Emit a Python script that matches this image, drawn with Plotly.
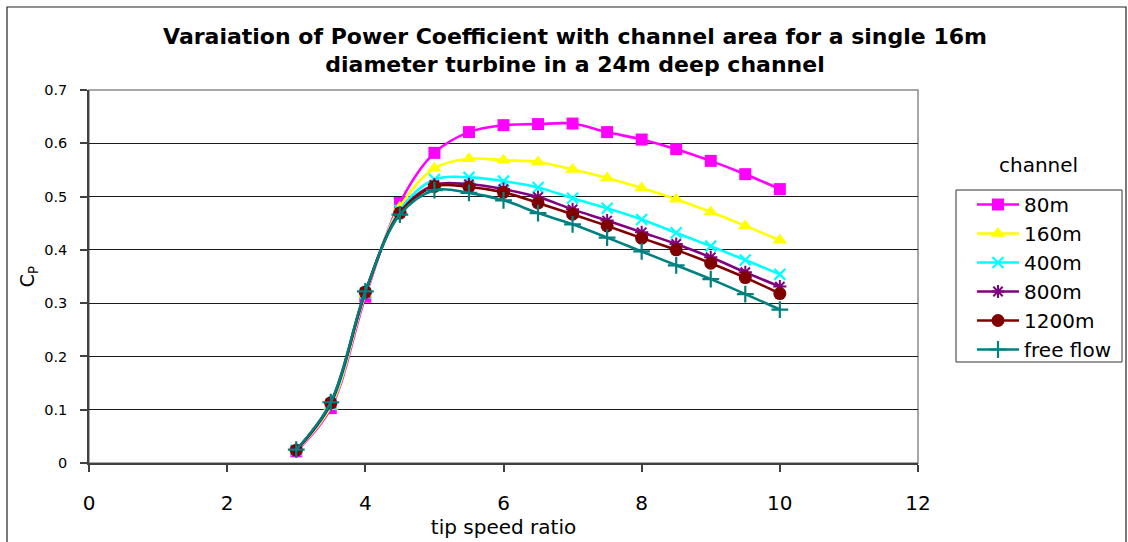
import plotly.graph_objects as go

# Tip speed ratio sample points
tsr = [3, 3.5, 4, 4.5, 5, 5.5, 6, 6.5, 7, 7.5, 8, 8.5, 9, 9.5, 10]

# Power coefficient per channel width
cp_80m = [0.022, 0.103, 0.312, 0.488, 0.582, 0.621, 0.634, 0.636, 0.637, 0.621, 0.607, 0.589, 0.567, 0.542, 0.514]
cp_160m = [0.023, 0.106, 0.316, 0.480, 0.553, 0.571, 0.568, 0.565, 0.551, 0.535, 0.516, 0.495, 0.471, 0.445, 0.418]
cp_400m = [0.024, 0.110, 0.319, 0.474, 0.532, 0.536, 0.529, 0.517, 0.497, 0.478, 0.457, 0.432, 0.407, 0.381, 0.354]
cp_800m = [0.024, 0.112, 0.320, 0.470, 0.522, 0.523, 0.514, 0.499, 0.476, 0.455, 0.433, 0.411, 0.386, 0.358, 0.331]
cp_1200m = [0.024, 0.113, 0.321, 0.469, 0.519, 0.518, 0.508, 0.488, 0.467, 0.445, 0.422, 0.400, 0.375, 0.348, 0.318]
cp_free = [0.025, 0.114, 0.322, 0.466, 0.512, 0.507, 0.493, 0.469, 0.448, 0.423, 0.397, 0.371, 0.345, 0.317, 0.288]

series_names = ["80m", "160m", "400m", "800m", "1200m", "free flow"]
series_values = [cp_80m, cp_160m, cp_400m, cp_800m, cp_1200m, cp_free]

x_ticks = [0, 2, 4, 6, 8, 10, 12]
y_ticks = [0, 0.1, 0.2, 0.3, 0.4, 0.5, 0.6, 0.7]

styles = [
    dict(color="#FF00FF", symbol="square", size=12, lw=0),
    dict(color="#FFFF00", symbol="triangle-up", size=13, lw=0),
    dict(color="#00FFFF", symbol="x-thin-open", size=11, lw=2.2),
    dict(color="#800080", symbol="asterisk-open", size=11, lw=2),
    dict(color="#800000", symbol="circle", size=13, lw=0),
    dict(color="#008080", symbol="cross-thin-open", size=12, lw=2.2),
]

FONT = "DejaVu Sans"

fig = go.Figure()
for name, vals, st in zip(series_names, series_values, styles):
    fig.add_trace(go.Scatter(
        x=tsr, y=vals, name=name, mode="lines+markers",
        line=dict(color=st["color"], width=2.6, shape="spline", smoothing=1.0),
        marker=dict(symbol=st["symbol"], size=st["size"], color=st["color"],
                    line=dict(width=st["lw"], color=st["color"])),
    ))

# Plot area in pixels
L, R, T, B = 89, 918, 90, 463
W, H = 1128, 542
PW, PH = R - L, B - T


def px(x):
    return (x - L) / PW


def py(y):
    return (B - y) / PH


shapes = [
    # plot area frame
    dict(type="rect", xref="paper", yref="paper", x0=0, x1=1, y0=0, y1=1,
         line=dict(color="#8c8c8c", width=1.5), layer="below"),
    # legend box
    dict(type="rect", xref="paper", yref="paper", x0=px(956), x1=px(1122),
         y0=py(362), y1=py(190), line=dict(color="#333333", width=1)),
    # outer chart border
    dict(type="rect", xref="paper", yref="paper", x0=px(7), x1=px(1126),
         y0=py(548), y1=py(7), line=dict(color="#222222", width=1.2)),
]

fig.update_layout(
    width=W, height=H,
    margin=dict(l=L, r=W - R, t=T, b=H - B, pad=0),
    paper_bgcolor="white", plot_bgcolor="white",
    font=dict(family=FONT, color="#000000"),
    title=dict(
        text="Varaiation of Power Coefficient with channel area for a single 16m<br>"
             "diameter turbine in a 24m deep channel",
        x=575 / W, xanchor="center", y=1 - 43.5 / H, yanchor="middle",
        yref="container", xref="container",
        font=dict(family=FONT, size=22, color="#000000", weight="bold"),
    ),
    xaxis=dict(
        range=[0, 12], tickvals=x_ticks, ticks="outside", ticklen=7,
        tickcolor="#404040", tickwidth=1.5,
        showline=True, linecolor="#404040", linewidth=1.5,
        showgrid=False, zeroline=False,
        tickfont=dict(family=FONT, size=20),
        ticklabelstandoff=14,
        title=dict(text="tip speed ratio", font=dict(family=FONT, size=20), standoff=0),
    ),
    yaxis=dict(
        range=[0, 0.7], tickvals=y_ticks, ticks="outside", ticklen=7,
        tickcolor="#404040", tickwidth=1.5,
        showline=True, linecolor="#404040", linewidth=1.5,
        showgrid=True, gridcolor="#1a1a1a", gridwidth=1, zeroline=False,
        tickfont=dict(family=FONT, size=14.5),
        ticklabelstandoff=10,
        title=dict(text="C<sub>P</sub>", font=dict(family=FONT, size=19), standoff=5),
    ),
    legend=dict(
        x=px(972), xanchor="left", y=py(185), yanchor="top",
        bgcolor="rgba(0,0,0,0)", borderwidth=0, itemwidth=42,
        font=dict(family=FONT, size=20), tracegroupgap=0,
    ),
    shapes=shapes,
    annotations=[
        dict(text="channel", xref="paper", yref="paper", x=px(1038), y=py(165),
             xanchor="center", yanchor="middle", showarrow=False,
             font=dict(family=FONT, size=20)),
    ],
)

fig.write_html("out.html")
